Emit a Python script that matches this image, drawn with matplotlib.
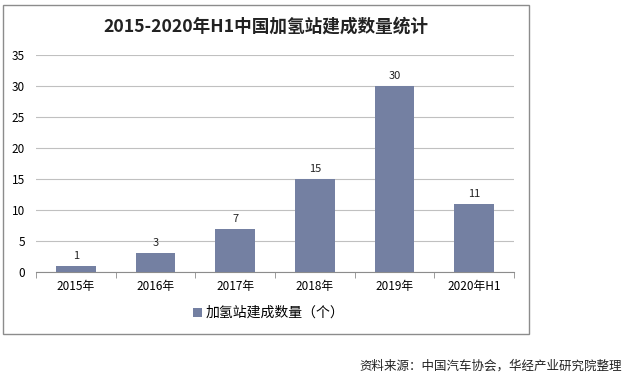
import numpy as np
import matplotlib.pyplot as plt
from matplotlib.patches import Rectangle

plt.rcParams['font.family'] = ['Noto Sans CJK SC', 'DejaVu Sans']

# data
years = ['2015年', '2016年', '2017年', '2018年', '2019年', '2020年H1']
stations = [1, 3, 7, 15, 30, 11]

W, H = 630, 379
fig = plt.figure(figsize=(W / 100, H / 100), dpi=100)

# outer chart border
fig.patches.append(Rectangle((3 / W, 1 - 334 / H), 526 / W, 329 / H,
                             transform=fig.transFigure, fill=False,
                             edgecolor='#8c8c8c', linewidth=1))

ax = fig.add_axes([36 / W, 1 - 272 / H, 478 / W, 217 / H])
x = np.arange(len(years))
bars = ax.bar(x, stations, 0.5, color='#7480a2', label='加氢站建成数量（个）', zorder=3)
for xi, v in zip(x, stations):
    ax.text(xi, v + 0.8, str(v), ha='center', va='bottom', fontsize=8, color='#222222')

ax.set_xlim(-0.5, len(years) - 0.5)
ax.set_ylim(0, 35)
ax.set_yticks(range(0, 36, 5))
ax.grid(axis='y', color='#c0c0c0', linewidth=0.8, zorder=0)
ax.set_xticks(x)
ax.set_xticklabels(years, fontsize=8.5)
ax.set_xticks(np.arange(-0.5, len(years)), minor=True)
ax.tick_params(axis='x', which='major', length=0, pad=6)
ax.tick_params(axis='x', which='minor', length=4, color='#8c8c8c')
ax.tick_params(axis='y', length=0, labelsize=8.5, pad=8)
for s in ['top', 'right', 'left']:
    ax.spines[s].set_visible(False)
ax.spines['bottom'].set_color('#8c8c8c')

fig.text(266 / W, 1 - 27 / H, '2015-2020年H1中国加氢站建成数量统计',
         ha='center', va='center', fontsize=12.7, fontweight='bold', color='#222222')

fig.legend(handles=[bars], loc='center', bbox_to_anchor=(269 / W, 1 - 313 / H),
           frameon=False, fontsize=10, handlelength=0.6, handleheight=0.6,
           handletextpad=0.3)

fig.text(622 / W, 1 - 366 / H, '资料来源：中国汽车协会，华经产业研究院整理',
         ha='right', va='center', fontsize=9, color='#222222')

fig.savefig('out.png', dpi=100, facecolor='white')
